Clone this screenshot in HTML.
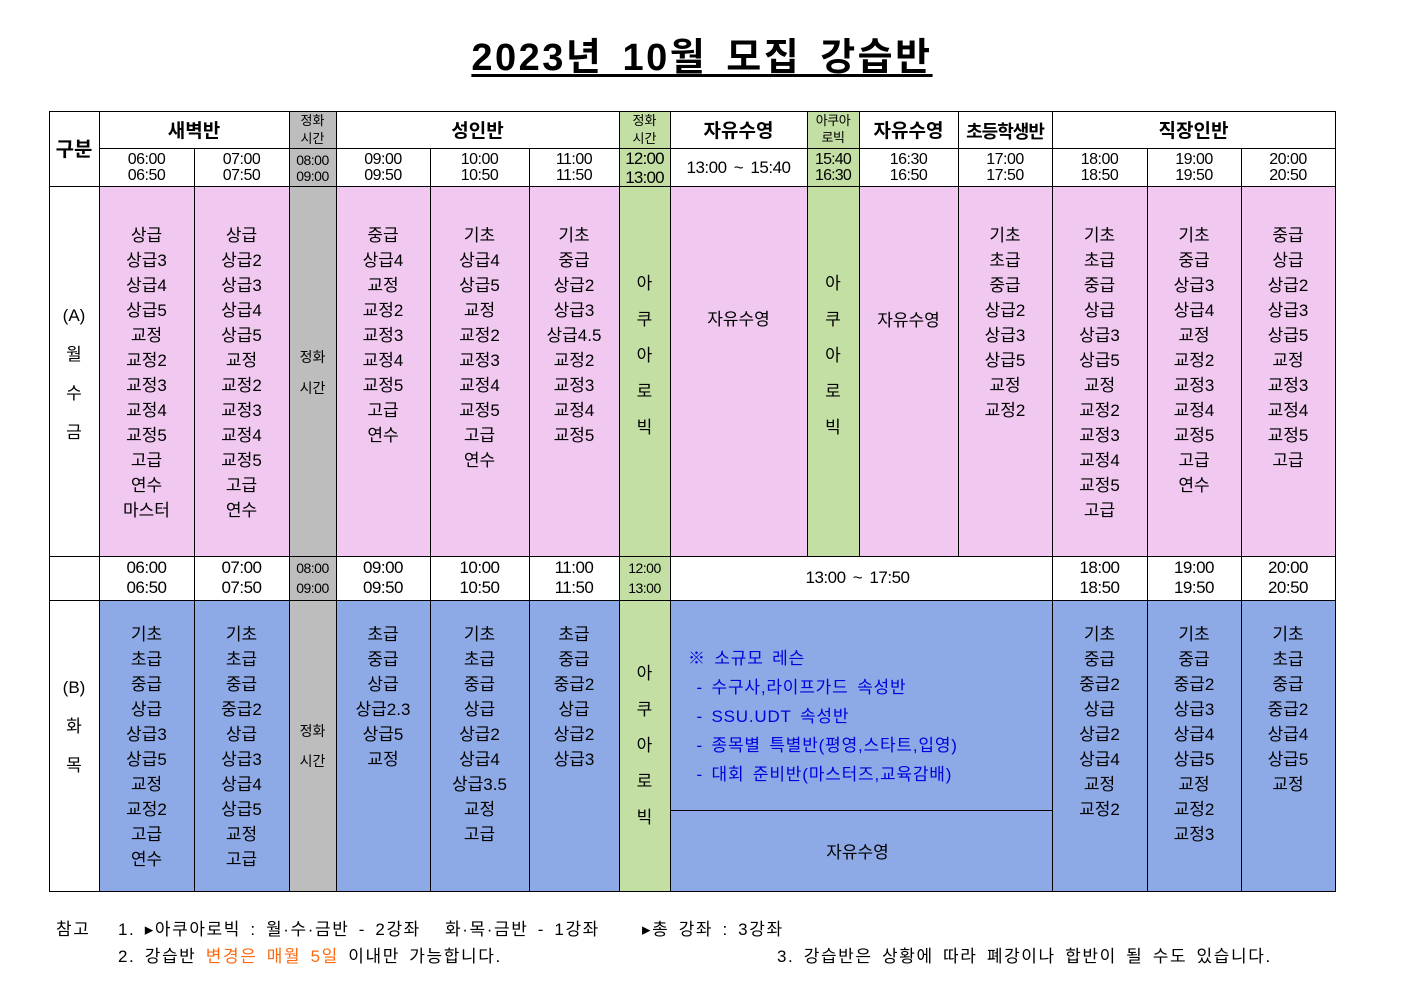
<!DOCTYPE html>
<html><head><meta charset="utf-8">
<style>
body{margin:0;width:1403px;height:992px;background:#fff;position:relative;overflow:hidden;font-family:"Liberation Sans","Noto Sans CJK KR",sans-serif;color:#000}
div{position:absolute;box-sizing:border-box}
.c{text-align:center}
.b{font-weight:bold}
.l{background:#000}
.col{text-align:center;font-size:17px;line-height:25px;top:223px}
.colb{text-align:center;font-size:17px;line-height:25px;top:622px}
.t2{text-align:center;font-size:16px;line-height:16px;letter-spacing:-0.5px}
.pk{background:#f0c8f0}
.bl{background:#8eaae6}
.gr{background:#c4dfa4}
.gy{background:#bdbdbd}
.v{text-align:center;font-size:17px}
.ft{font-size:17px;line-height:24px;white-space:nowrap;letter-spacing:1.6px;word-spacing:3px}
</style></head><body>
<div class="c b" style="left:350px;width:704px;top:33px;font-size:38px;line-height:50px;letter-spacing:2.5px;word-spacing:6px"><span style="text-decoration:underline;text-underline-offset:4px">2023년 10월 모집 강습반</span></div>

<div class="gy" style="left:289px;top:112px;width:47px;height:74px"></div>
<div class="gr" style="left:619px;top:112px;width:51px;height:74px"></div>
<div class="gr" style="left:807px;top:112px;width:52px;height:74px"></div>
<div class="pk" style="left:99px;top:186px;width:1236px;height:370px"></div>
<div class="gy" style="left:289px;top:186px;width:47px;height:706px"></div>
<div class="gr" style="left:619px;top:186px;width:51px;height:706px"></div>
<div class="gr" style="left:807px;top:186px;width:52px;height:370px"></div>
<div style="left:99px;top:556px;width:190px;height:44px;background:#fff"></div>
<div style="left:336px;top:556px;width:283px;height:44px;background:#fff"></div>
<div style="left:670px;top:556px;width:665px;height:44px;background:#fff"></div>
<div class="bl" style="left:99px;top:600px;width:190px;height:292px"></div>
<div class="bl" style="left:336px;top:600px;width:283px;height:292px"></div>
<div class="bl" style="left:670px;top:600px;width:665px;height:292px"></div>

<div class="l" style="left:49px;top:111px;width:1287px;height:1px"></div>
<div class="l" style="left:99px;top:148px;width:1237px;height:1px"></div>
<div class="l" style="left:49px;top:186px;width:1287px;height:1px"></div>
<div class="l" style="left:49px;top:556px;width:1287px;height:1px"></div>
<div class="l" style="left:49px;top:600px;width:1287px;height:1px"></div>
<div class="l" style="left:670px;top:810px;width:382px;height:1px"></div>
<div class="l" style="left:49px;top:891px;width:1287px;height:1px"></div>
<div class="l" style="left:49px;top:111px;width:1px;height:781px"></div>
<div class="l" style="left:99px;top:111px;width:1px;height:781px"></div>
<div class="l" style="left:194px;top:148px;width:1px;height:744px"></div>
<div class="l" style="left:289px;top:111px;width:1px;height:781px"></div>
<div class="l" style="left:336px;top:111px;width:1px;height:781px"></div>
<div class="l" style="left:430px;top:148px;width:1px;height:744px"></div>
<div class="l" style="left:529px;top:148px;width:1px;height:744px"></div>
<div class="l" style="left:619px;top:111px;width:1px;height:781px"></div>
<div class="l" style="left:670px;top:111px;width:1px;height:781px"></div>
<div class="l" style="left:807px;top:111px;width:1px;height:445px"></div>
<div class="l" style="left:859px;top:111px;width:1px;height:445px"></div>
<div class="l" style="left:958px;top:111px;width:1px;height:445px"></div>
<div class="l" style="left:1052px;top:111px;width:1px;height:781px"></div>
<div class="l" style="left:1147px;top:148px;width:1px;height:744px"></div>
<div class="l" style="left:1241px;top:148px;width:1px;height:744px"></div>
<div class="l" style="left:1335px;top:111px;width:1px;height:781px"></div>

<div class="c b" style="left:49px;width:50px;top:137px;font-size:20px;line-height:26px">구분</div>
<div class="c b" style="left:99px;width:190px;top:119px;font-size:19px;line-height:26px">새벽반</div>
<div class="c" style="left:289px;width:47px;top:112px;font-size:13px;line-height:18px">정화<br>시간</div>
<div class="c b" style="left:336px;width:283px;top:119px;font-size:19px;line-height:26px">성인반</div>
<div class="c" style="left:619px;width:51px;top:112px;font-size:13px;line-height:18px">정화<br>시간</div>
<div class="c b" style="left:670px;width:137px;top:119px;font-size:19px;line-height:26px">자유수영</div>
<div class="c" style="left:807px;width:52px;top:112px;font-size:13px;line-height:17px;letter-spacing:-0.5px">아쿠아<br>로빅</div>
<div class="c b" style="left:859px;width:99px;top:119px;font-size:19px;line-height:26px">자유수영</div>
<div class="c b" style="left:958px;width:94px;top:119px;font-size:18px;line-height:26px;letter-spacing:-1px">초등학생반</div>
<div class="c b" style="left:1052px;width:283px;top:119px;font-size:19px;line-height:26px">직장인반</div>

<div class="t2" style="left:99px;width:95px;top:152px">06:00<br>06:50</div>
<div class="t2" style="left:194px;width:95px;top:152px">07:00<br>07:50</div>
<div class="t2" style="left:289px;width:47px;top:152px;font-size:14px;letter-spacing:-0.5px">08:00<br>09:00</div>
<div class="t2" style="left:336px;width:94px;top:152px">09:00<br>09:50</div>
<div class="t2" style="left:430px;width:99px;top:152px">10:00<br>10:50</div>
<div class="t2" style="left:529px;width:90px;top:152px">11:00<br>11:50</div>
<div class="t2" style="left:619px;width:51px;top:149px;line-height:19px;font-size:17px;letter-spacing:-0.8px">12:00<br>13:00</div>
<div class="t2" style="left:670px;width:137px;top:159px;font-size:17px;line-height:18px;word-spacing:3px">13:00 ~ 15:40</div>
<div class="t2" style="left:807px;width:52px;top:152px;font-size:16px;letter-spacing:-0.8px">15:40<br>16:30</div>
<div class="t2" style="left:859px;width:99px;top:152px">16:30<br>16:50</div>
<div class="t2" style="left:958px;width:94px;top:152px">17:00<br>17:50</div>
<div class="t2" style="left:1052px;width:95px;top:152px">18:00<br>18:50</div>
<div class="t2" style="left:1147px;width:94px;top:152px">19:00<br>19:50</div>
<div class="t2" style="left:1241px;width:94px;top:152px">20:00<br>20:50</div>

<div class="v" style="left:49px;width:50px;top:296px;line-height:39px">(A)<br>월<br>수<br>금</div>
<div class="col" style="left:99px;width:95px">상급<br>상급3<br>상급4<br>상급5<br>교정<br>교정2<br>교정3<br>교정4<br>교정5<br>고급<br>연수<br>마스터</div>
<div class="col" style="left:194px;width:95px">상급<br>상급2<br>상급3<br>상급4<br>상급5<br>교정<br>교정2<br>교정3<br>교정4<br>교정5<br>고급<br>연수</div>
<div class="c" style="left:289px;width:47px;top:342px;font-size:14px;line-height:31px">정화<br>시간</div>
<div class="col" style="left:336px;width:94px">중급<br>상급4<br>교정<br>교정2<br>교정3<br>교정4<br>교정5<br>고급<br>연수</div>
<div class="col" style="left:430px;width:99px">기초<br>상급4<br>상급5<br>교정<br>교정2<br>교정3<br>교정4<br>교정5<br>고급<br>연수</div>
<div class="col" style="left:529px;width:90px">기초<br>중급<br>상급2<br>상급3<br>상급4.5<br>교정2<br>교정3<br>교정4<br>교정5</div>
<div class="v" style="left:619px;width:51px;top:266px;line-height:36px">아<br>쿠<br>아<br>로<br>빅</div>
<div class="v" style="left:670px;width:137px;top:307px;line-height:25px">자유수영</div>
<div class="v" style="left:807px;width:52px;top:266px;line-height:36px">아<br>쿠<br>아<br>로<br>빅</div>
<div class="v" style="left:859px;width:99px;top:308px;line-height:25px">자유수영</div>
<div class="col" style="left:958px;width:94px">기초<br>초급<br>중급<br>상급2<br>상급3<br>상급5<br>교정<br>교정2</div>
<div class="col" style="left:1052px;width:95px">기초<br>초급<br>중급<br>상급<br>상급3<br>상급5<br>교정<br>교정2<br>교정3<br>교정4<br>교정5<br>고급</div>
<div class="col" style="left:1147px;width:94px">기초<br>중급<br>상급3<br>상급4<br>교정<br>교정2<br>교정3<br>교정4<br>교정5<br>고급<br>연수</div>
<div class="col" style="left:1241px;width:94px">중급<br>상급<br>상급2<br>상급3<br>상급5<br>교정<br>교정3<br>교정4<br>교정5<br>고급</div>

<div class="t2" style="left:99px;width:95px;top:558px;font-size:17px;line-height:20px">06:00<br>06:50</div>
<div class="t2" style="left:194px;width:95px;top:558px;font-size:17px;line-height:20px">07:00<br>07:50</div>
<div class="t2" style="left:289px;width:47px;top:558px;font-size:14px;line-height:20px">08:00<br>09:00</div>
<div class="t2" style="left:336px;width:94px;top:558px;font-size:17px;line-height:20px">09:00<br>09:50</div>
<div class="t2" style="left:430px;width:99px;top:558px;font-size:17px;line-height:20px">10:00<br>10:50</div>
<div class="t2" style="left:529px;width:90px;top:558px;font-size:17px;line-height:20px">11:00<br>11:50</div>
<div class="t2" style="left:619px;width:51px;top:558px;font-size:14px;line-height:20px">12:00<br>13:00</div>
<div class="t2" style="left:670px;width:375px;top:568px;font-size:17px;line-height:20px;word-spacing:3px">13:00 ~ 17:50</div>
<div class="t2" style="left:1052px;width:95px;top:558px;font-size:17px;line-height:20px">18:00<br>18:50</div>
<div class="t2" style="left:1147px;width:94px;top:558px;font-size:17px;line-height:20px">19:00<br>19:50</div>
<div class="t2" style="left:1241px;width:94px;top:558px;font-size:17px;line-height:20px">20:00<br>20:50</div>

<div class="v" style="left:49px;width:50px;top:668px;line-height:39px">(B)<br>화<br>목</div>
<div class="colb" style="left:99px;width:95px">기초<br>초급<br>중급<br>상급<br>상급3<br>상급5<br>교정<br>교정2<br>고급<br>연수</div>
<div class="colb" style="left:194px;width:95px">기초<br>초급<br>중급<br>중급2<br>상급<br>상급3<br>상급4<br>상급5<br>교정<br>고급</div>
<div class="c" style="left:289px;width:47px;top:716px;font-size:14px;line-height:30px">정화<br>시간</div>
<div class="colb" style="left:336px;width:94px">초급<br>중급<br>상급<br>상급2.3<br>상급5<br>교정</div>
<div class="colb" style="left:430px;width:99px">기초<br>초급<br>중급<br>상급<br>상급2<br>상급4<br>상급3.5<br>교정<br>고급</div>
<div class="colb" style="left:529px;width:90px">초급<br>중급<br>중급2<br>상급<br>상급2<br>상급3</div>
<div class="v" style="left:619px;width:51px;top:656px;line-height:36px">아<br>쿠<br>아<br>로<br>빅</div>
<div style="left:688px;top:644px;font-size:17px;line-height:29px;color:#0000dd;white-space:pre;letter-spacing:0.8px;word-spacing:3px">※ 소규모 레슨
 - 수구사,라이프가드 속성반
 - SSU.UDT 속성반
 - 종목별 특별반(평영,스타트,입영)
 - 대회 준비반(마스터즈,교육감배)</div>
<div class="v" style="left:670px;width:375px;top:840px;line-height:25px">자유수영</div>
<div class="colb" style="left:1052px;width:95px">기초<br>중급<br>중급2<br>상급<br>상급2<br>상급4<br>교정<br>교정2</div>
<div class="colb" style="left:1147px;width:94px">기초<br>중급<br>중급2<br>상급3<br>상급4<br>상급5<br>교정<br>교정2<br>교정3</div>
<div class="colb" style="left:1241px;width:94px">기초<br>초급<br>중급<br>중급2<br>상급4<br>상급5<br>교정</div>

<div class="ft" style="left:56px;top:918px">참고</div>
<div class="ft" style="left:118px;top:918px">1. ▸아쿠아로빅 : 월·수·금반 - 2강좌</div>
<div class="ft" style="left:445px;top:918px">화·목·금반 - 1강좌</div>
<div class="ft" style="left:642px;top:918px">▸총 강좌 : 3강좌</div>
<div class="ft" style="left:118px;top:945px">2. 강습반 <span style="color:#ff6a10">변경은 매월 5일</span> 이내만 가능합니다.</div>
<div class="ft" style="left:777px;top:945px">3. 강습반은 상황에 따라 폐강이나 합반이 될 수도 있습니다.</div>
</body></html>
